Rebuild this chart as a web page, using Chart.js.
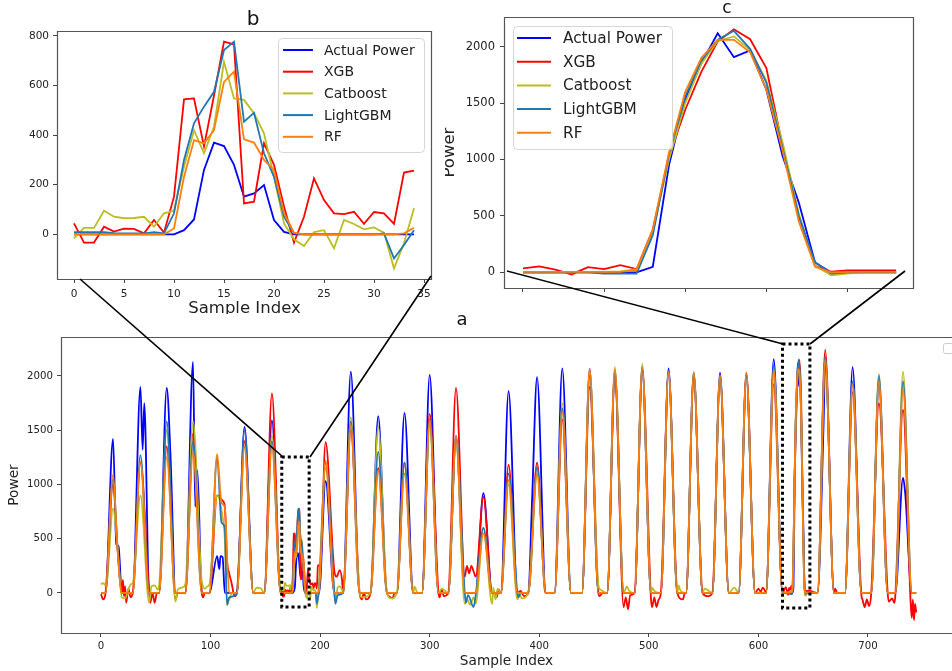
<!DOCTYPE html>
<html>
<head>
<meta charset="utf-8">
<script src="https://cdn.jsdelivr.net/npm/chart.js@4.4.1/dist/chart.umd.min.js"></script>
<style>
    html, body { margin: 0; padding: 0; background: #fff; }
    body { width: 952px; height: 671px; position: relative; overflow: hidden; }
    canvas { position: absolute; }
    #chartB { left: 0; top: 0; }
    #chartC { left: 445px; top: 0; }
    #chartA { left: 0; top: 314px; }
    #links { position: absolute; left: 0; top: 0; pointer-events: none; }
</style>
</head>
<body>
<canvas id="chartB" width="440" height="330"></canvas>
<canvas id="chartC" width="507" height="300"></canvas>
<canvas id="chartA" width="952" height="357"></canvas>
<svg id="links" width="952" height="671">
    <line x1="80" y1="279" x2="283" y2="457" stroke="#000" stroke-width="1.6"/>
    <line x1="431" y1="276" x2="310" y2="457" stroke="#000" stroke-width="1.6"/>
    <line x1="507" y1="271" x2="783" y2="344" stroke="#000" stroke-width="1.6"/>
    <line x1="905" y1="271" x2="810" y2="344" stroke="#000" stroke-width="1.6"/>
    <rect x="943.5" y="343.5" width="12" height="10" rx="2" fill="none" stroke="#ccc"/>
</svg>
<script>
const seriesNames = ['Actual Power', 'XGB', 'Catboost', 'LightGBM', 'RF'];
const seriesColors = ['#0000ff', '#ff0000', '#bcbd22', '#1f77b4', '#ff7f0e'];

// panel b: 35 samples (sample 165..199 of panel a)
const bStart = 165;
const bActual = [0,0,0,0,0,0,0,0,0,0,0,17,60,260,370,356,280,152,165,199,58,10,0,0,0,0,0,0,0,0,0,0,0,0,0];
const bXgb = [44,-33,-33,31,11,23,22,4,58,7,152,544,548,354,560,777,766,125,132,367,280,112,-33,71,226,138,85,82,91,42,90,85,42,249,257];
const bCat = [-16,26,26,95,71,65,66,71,31,85,95,273,420,327,434,696,548,542,488,407,232,44,-20,-47,9,17,-56,58,42,20,28,7,-137,-36,105];
const bLgb = [9,9,9,9,5,4,4,4,9,4,85,300,448,515,575,743,777,454,490,327,232,71,4,0,0,0,0,0,0,0,0,4,-97,-43,17];
const bRf = [0,0,0,0,0,0,0,0,0,0,24,232,380,367,420,615,656,383,370,300,259,85,7,0,0,0,0,0,0,0,0,0,0,4,27];
const bTicksX = [0, 5, 10, 15, 20, 25, 30, 35];
const bTicksY = [0, 200, 400, 600, 800];

// panel c: 24 samples (sample 624..647 of panel a)
const cStart = 624;
const cActual = [0,0,0,0,0,0,0,0,50,950,1530,1853,2118,1906,1965,1618,1030,618,88,0,0,0,0,0];
const cXgb = [35,53,24,-18,47,29,65,30,380,1030,1441,1779,2044,2153,2065,1809,1118,500,59,6,18,18,18,18];
const cCat = [0,-5,-5,0,5,5,10,30,360,1000,1500,1850,2050,2090,1970,1700,1150,520,60,-25,-10,0,0,0];
const cLgb = [0,0,0,0,0,-10,-10,-10,330,1050,1560,1880,2060,2140,1980,1680,1100,500,90,-10,0,0,0,0];
const cRf = [5,5,5,5,5,5,5,20,380,1060,1600,1900,2060,2060,1950,1620,1080,450,50,0,5,5,5,5];
const cTicksX = [0, 5, 10, 15, 20];
const cTicksY = [0, 500, 1000, 1500, 2000];

// panel a: one peak per day (days 7 and 26 come from panels b and c)
const dayRise = [4,29,53,77,99,124,149,173,198,221,246,270,293,317,342,365,390,414,439,462,487,511,534,558,582,607,629,654,679,703,725];
const dayPeak = [11,36,60,84,106,131,156,180,205,228,253,277,300,324,349,372,398,421,446,469,494,518,541,565,589,614,636,661,686,710,732];
const daySet = [19,44,68,92,117,139,164,188,213,236,261,285,308,332,357,380,406,429,454,477,502,526,549,573,597,622,644,669,694,718,740];
const aFirst = 0;
const aLast = 744;

const aActualPeak = [1420,1900,1890,2130,340,1530,1590,null,1030,2040,1630,1660,2010,1420,920,1860,1990,2070,2065,2000,2060,2070,2030,2030,2000,2155,null,2150,2080,1950,1060];
const aXgbPeak = [1000,1200,1350,1470,900,1400,1840,null,1390,1500,1150,1200,1650,1890,885,1180,1200,1600,1900,2000,2050,2040,1980,1980,2030,1925,null,2240,1850,1750,1690];
const aCatPeak = [780,900,1500,1580,900,1350,1450,null,1150,1620,1530,1200,1550,1400,600,1000,1100,1750,2050,2080,2110,2040,2040,2000,1970,2050,null,2150,1950,2020,2040];
const aLgbPeak = [1050,1270,1580,1400,1250,1500,1400,null,1200,1580,1300,1200,1600,1450,600,1100,1160,1700,2000,2050,2080,2040,2020,2000,2000,2100,null,2180,1950,2000,1950];
const aRfPeak = [1090,1210,1250,1300,1280,1350,1350,null,1220,1550,1130,1100,1590,1440,550,1040,1100,1670,2065,2060,2080,2040,2020,2000,2030,2060,null,2150,1915,1950,1880];

// shoulders, double peaks and night noise, as [sample, value]
const aActualExtra = [[14,450],[16,430],[38,1320],[39.5,1750],[63.5,1250],[86,795],[88,1130],[108,220],[109,340],[111,330],[113,0],[393.5,870],[659.5,1565],[734,920]];
const aXgbExtra = [[0,-10],[2,-60],[4,-10],[15,420],[20,120],[21,-30],[22,60],[23,-90],[25,40],[27,-40],[45,-90],[47,0],[49,-90],[51,0],[68,-60],[70,0],[93,-40],[95,0],[111,850],[113,800],[115,300],[117,180],[119,100],[122,-30],[200,250],[213,200],[215,150],[218,210],[220,120],[238,-60],[240,0],[242,-60],[263,-30],[266,-50],[268,0],[309,-40],[311,30],[313,-30],[332,150],[334,250],[336,180],[338,250],[340,200],[342,150],[358,20],[361,-40],[363,30],[383,20],[386,-30],[405,30],[407,0],[455,-30],[458,0],[477,-130],[479,-40],[481,-150],[483,-20],[502,-60],[503,-130],[505,-40],[507,-130],[509,-60],[511,0],[531,-60],[533,0],[554,-30],[600,40],[602,10],[604,50],[606,20],[670,40],[672,0],[694,-20],[695,-60],[697,-130],[699,-60],[701,-120],[703,0],[719,-80],[722,-50],[724,-90],[725,-20],[739,-100],[740,-230],[741,-60],[742,-250],[743,-100],[744,-180]];
const aCatExtra = [[0,80],[2,90],[4,70],[5,80],[15,430],[19,-40],[22,-50],[25,30],[27,80],[29,90],[44,-90],[46,60],[49,70],[52,30],[53,60],[68,-80],[70,30],[74,50],[77,80],[92,110],[95,40],[97,60],[99,80],[111,700],[113,500],[115,-110],[117,-60],[120,0],[142,50],[146,40],[214,-80],[216,50],[218,60],[220,30],[238,-40],[265,-50],[286,60],[289,0],[311,40],[332,-100],[334,-60],[337,-110],[340,-40],[342,-100],[357,-100],[358,50],[360,-60],[362,40],[380,-60],[382,0],[384,-50],[454,70],[456,30],[480,60],[482,20],[503,50],[505,20],[527,70],[529,20],[551,40],[578,50]];
const aLgbExtra = [[15,440],[110,650],[113,600],[115,-110],[117,-40],[214,-100],[216,-20],[333,-90],[335,-20],[340,-130],[342,-20],[381,-40],[383,0]];
const aRfExtra = [[15,420],[110,830],[113,790]];

const aTicksX = [0, 100, 200, 300, 400, 500, 600, 700];
const aTicksY = [0, 500, 1000, 1500, 2000];

// dotted boxes on panel a marking the zoomed windows
const zoomBoxX = [[165, 190], [622, 647]];
const zoomBoxY = [[-129, 1253], [-138, 2295]];

Chart.defaults.font.family = '"DejaVu Sans", sans-serif';
Chart.defaults.color = '#222';

function buildSeries(peaks, extras, bVals, cVals) {
    const pts = new Map();
    pts.set(aFirst, 0);
    pts.set(aLast, 0);
    peaks.forEach((p, d) => {
        if (p === null) return;
        pts.set(dayRise[d], 0);
        pts.set(dayPeak[d], p);
        pts.set(daySet[d], 0);
    });
    extras.forEach(([x, y]) => pts.set(x, y));
    bVals.forEach((y, i) => pts.set(bStart + i, y));
    cVals.forEach((y, i) => pts.set(cStart + i, y));
    return [...pts].map(([x, y]) => ({ x, y })).sort((a, b) => a.x - b.x);
}

function toPoints(vals) {
    return vals.map((y, i) => ({ x: i, y }));
}

function makeDatasets(list, width, smooth) {
    return list.map((data, i) => ({
        label: seriesNames[i],
        data,
        borderColor: seriesColors[i],
        backgroundColor: seriesColors[i],
        borderWidth: width,
        pointRadius: 0,
        fill: false,
        order: list.length - i,
        cubicInterpolationMode: smooth ? 'monotone' : 'default',
        tension: 0,
    }));
}

const frame = {
    id: 'frame',
    afterDatasetsDraw(chart, args, opts) {
        const { ctx, chartArea: a } = chart;
        const l = Math.round(a.left) + 0.5, r = Math.round(a.right) - 0.5;
        const t = Math.round(a.top) + 0.5, b = Math.round(a.bottom) + 0.5;
        ctx.save();
        ctx.strokeStyle = '#555';
        ctx.lineWidth = 1.2;
        ctx.beginPath();
        if (opts.openRight) {
            ctx.moveTo(a.right + 2, t); ctx.lineTo(l, t); ctx.lineTo(l, b); ctx.lineTo(a.right + 2, b);
        } else {
            ctx.rect(l, t, r - l, b - t);
        }
        ctx.stroke();
        ctx.restore();
    },
};

const mplLegend = {
    id: 'mplLegend',
    afterDatasetsDraw(chart, args, opts) {
        if (!opts.box) return;
        const ctx = chart.ctx;
        const [x, y, w, h] = opts.box;
        ctx.save();
        ctx.beginPath();
        ctx.roundRect(x + 0.5, y + 0.5, w, h, 4);
        ctx.fillStyle = 'rgba(255,255,255,0.85)';
        ctx.fill();
        ctx.strokeStyle = '#d6d6d6';
        ctx.lineWidth = 1;
        ctx.stroke();
        ctx.font = `${opts.size}px "DejaVu Sans"`;
        ctx.textBaseline = 'middle';
        chart.data.datasets.forEach((ds, i) => {
            const yy = opts.row0 + i * opts.rowGap;
            ctx.strokeStyle = ds.borderColor;
            ctx.lineWidth = 2;
            ctx.beginPath();
            ctx.moveTo(opts.line[0], yy);
            ctx.lineTo(opts.line[1], yy);
            ctx.stroke();
            ctx.fillStyle = '#222';
            ctx.fillText(ds.label, opts.textX, yy + 1);
        });
        ctx.restore();
    },
};

const panelLabel = {
    id: 'panelLabel',
    afterDraw(chart, args, opts) {
        if (!opts.text) return;
        const ctx = chart.ctx;
        ctx.save();
        ctx.font = `${opts.size}px "DejaVu Sans"`;
        ctx.fillStyle = '#111';
        ctx.textAlign = 'center';
        ctx.textBaseline = 'alphabetic';
        ctx.fillText(opts.text, opts.x, opts.y);
        ctx.restore();
    },
};

const whiteBg = {
    id: 'whiteBg',
    beforeDraw(chart) {
        const ctx = chart.ctx;
        ctx.save();
        ctx.fillStyle = '#fff';
        ctx.fillRect(0, 0, chart.width, chart.height);
        ctx.restore();
    },
};

const zoomBoxes = {
    id: 'zoomBoxes',
    afterDatasetsDraw(chart) {
        const { ctx, scales: { x: xs, y: ys } } = chart;
        ctx.save();
        ctx.strokeStyle = '#000';
        ctx.lineWidth = 3;
        ctx.setLineDash([3, 3]);
        zoomBoxX.forEach((xr, i) => {
            const yr = zoomBoxY[i];
            const x0 = xs.getPixelForValue(xr[0]), x1 = xs.getPixelForValue(xr[1]);
            const y0 = ys.getPixelForValue(yr[1]), y1 = ys.getPixelForValue(yr[0]);
            ctx.strokeRect(x0, y0, x1 - x0, y1 - y0);
        });
        ctx.restore();
    },
};

function axis(cfg) {
    return {
        type: 'linear',
        min: cfg.min,
        max: cfg.max,
        afterBuildTicks: (s) => { s.ticks = cfg.ticks.map((v) => ({ value: v })); },
        afterFit: (s) => { if (cfg.width !== undefined) s.width = cfg.width; if (cfg.height !== undefined) s.height = cfg.height; },
        ticks: {
            display: cfg.labels !== false,
            font: { size: cfg.tickSize },
            color: '#222',
            padding: cfg.pad,
            maxRotation: 0,
            autoSkip: false,
            callback: (v) => String(v),
        },
        grid: { drawOnChartArea: false, drawTicks: true, tickLength: 4, color: '#444', tickColor: '#444' },
        border: { display: false },
        title: cfg.title ? { display: true, text: cfg.title, font: { size: cfg.titleSize }, color: '#222', padding: cfg.titlePad } : { display: false },
    };
}

function baseOptions(padding) {
    return {
        responsive: false,
        maintainAspectRatio: false,
        devicePixelRatio: 1,
        animation: false,
        parsing: false,
        normalized: true,
        layout: { padding },
        plugins: { legend: { display: false }, tooltip: { enabled: false } },
    };
}

// panel b
const optB = baseOptions({ top: 31, right: 8, left: 0, bottom: 0 });
optB.scales = {
    x: axis({ min: -1.7, max: 35.8, ticks: bTicksX, height: 51, tickSize: 10.5, pad: 5, title: 'Sample Index', titleSize: 16.5, titlePad: { top: 0, bottom: 11 } }),
    y: axis({ min: -180, max: 820, ticks: bTicksY, width: 57, tickSize: 10.5, pad: 4 }),
};
optB.plugins.mplLegend = { box: [278, 38, 146, 114], row0: 50, rowGap: 21.7, line: [283, 313], textX: 324, size: 14 };
optB.plugins.panelLabel = { text: 'b', x: 253, y: 25, size: 20 };
new Chart(document.getElementById('chartB'), {
    type: 'line',
    data: { datasets: makeDatasets([bActual, bXgb, bCat, bLgb, bRf].map(toPoints), 1.8, false) },
    options: optB,
    plugins: [frame, mplLegend, panelLabel],
});

// panel c
const optC = baseOptions({ top: 17, right: 38, left: 0, bottom: 0 });
optC.scales = {
    x: axis({ min: -1.17, max: 24.1, ticks: cTicksX, height: 11, labels: false, tickSize: 11, pad: 3 }),
    y: axis({ min: -139, max: 2262, ticks: cTicksY, width: 59, tickSize: 11.5, pad: 5, title: 'Power', titleSize: 16.5, titlePad: { top: -5, bottom: 0 } }),
};
optC.plugins.mplLegend = { box: [68, 26, 159, 123], row0: 38, rowGap: 23.7, line: [72, 106], textX: 118, size: 15.3 };
optC.plugins.panelLabel = { text: 'c', x: 282, y: 13, size: 17 };
new Chart(document.getElementById('chartC'), {
    type: 'line',
    data: { datasets: makeDatasets([cActual, cXgb, cCat, cLgb, cRf].map(toPoints), 1.8, false) },
    options: optC,
    plugins: [frame, mplLegend, panelLabel],
});

// panel a
const optA = baseOptions({ top: 23, right: 0, left: 0, bottom: 0 });
optA.scales = {
    x: axis({ min: -36.5, max: 776.7, ticks: aTicksX, height: 38, tickSize: 10.2, pad: 3, title: 'Sample Index', titleSize: 13.7, titlePad: { top: 0, bottom: 1 } }),
    y: axis({ min: -369, max: 2359, ticks: aTicksY, width: 61, tickSize: 10.2, pad: 4, title: 'Power', titleSize: 13.7, titlePad: { top: 6.5, bottom: 0 } }),
};
optA.plugins.frame = { openRight: true };
optA.plugins.panelLabel = { text: 'a', x: 462, y: 11, size: 18 };
new Chart(document.getElementById('chartA'), {
    type: 'line',
    data: {
        datasets: makeDatasets([
            buildSeries(aActualPeak, aActualExtra, bActual, cActual),
            buildSeries(aXgbPeak, aXgbExtra, bXgb, cXgb),
            buildSeries(aCatPeak, aCatExtra, bCat, cCat),
            buildSeries(aLgbPeak, aLgbExtra, bLgb, cLgb),
            buildSeries(aRfPeak, aRfExtra, bRf, cRf),
        ], 1.8, true),
    },
    options: optA,
    plugins: [whiteBg, frame, zoomBoxes, panelLabel],
});
</script>
</body>
</html>
